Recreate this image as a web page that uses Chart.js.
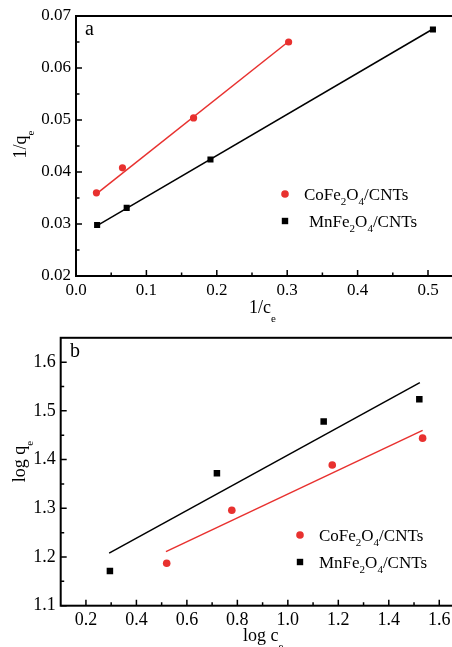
<!DOCTYPE html>
<html>
<head>
<meta charset="utf-8">
<script src="https://cdn.jsdelivr.net/npm/chart.js@4.4.0/dist/chart.umd.min.js"></script>
<style>
    html, body { margin: 0; padding: 0; background: #fff; overflow: hidden; width: 452px; height: 647px; }
    canvas { position: absolute; left: 0; }
    #chartA { top: 0; }
    #chartB { top: 322px; }
</style>
</head>
<body>
<canvas id="chartA" width="480" height="322"></canvas>
<canvas id="chartB" width="480" height="325"></canvas>
<script>
// ===== panel a : 1/qe vs 1/ce =====
const coXa = [0.029, 0.066, 0.167, 0.302];
const coYa = [0.0360, 0.0408, 0.0504, 0.0650];
const mnXa = [0.030, 0.072, 0.191, 0.507];
const mnYa = [0.0298, 0.0331, 0.0424, 0.0674];
const coFitXa = [0.029, 0.302];
const coFitYa = [0.0358, 0.0651];
const mnFitXa = [0.030, 0.507];
const mnFitYa = [0.0297, 0.0675];
const xTicksA = [0.0, 0.1, 0.2, 0.3, 0.4, 0.5];
const yTicksA = [0.02, 0.03, 0.04, 0.05, 0.06, 0.07];

// ===== panel b : log qe vs log ce =====
const coXb = [0.520, 0.778, 1.176, 1.534];
const coYb = [1.187, 1.296, 1.389, 1.444];
const mnXb = [0.295, 0.719, 1.142, 1.521];
const mnYb = [1.171, 1.372, 1.478, 1.524];
const coFitXb = [0.517, 1.534];
const coFitYb = [1.211, 1.460];
const mnFitXb = [0.292, 1.523];
const mnFitYb = [1.208, 1.558];
const xTicksB = [0.2, 0.4, 0.6, 0.8, 1.0, 1.2, 1.4, 1.6];
const yTicksB = [1.1, 1.2, 1.3, 1.4, 1.5, 1.6];

const RED = "#e8312f";
const SERIF = "'Liberation Serif', 'Times New Roman', serif";

const pts = (xs, ys) => xs.map((x, i) => ({ x: x, y: ys[i] }));

// text with subscripts: parts = [[text, isSub], ...]
function drawRich(ctx, parts, x, y, size, subSize, subDrop) {
    let cx = x;
    parts.forEach(([t, sub]) => {
        ctx.font = (sub ? subSize : size) + "px " + SERIF;
        ctx.fillText(t, cx, sub ? y + subDrop : y);
        cx += ctx.measureText(t).width;
    });
}

function framePlugin(cfg) {
    return {
        id: "frame",
        afterDraw(chart) {
            const ctx = chart.ctx;
            const a = chart.chartArea;
            const xs = chart.scales.x, ys = chart.scales.y;
            ctx.save();
            ctx.strokeStyle = "#000";
            ctx.fillStyle = "#000";
            ctx.lineWidth = 2;
            ctx.strokeRect(a.left, a.top, a.right - a.left, a.bottom - a.top);

            // inward ticks, major and minor
            ctx.lineWidth = 1.5;
            const stepX = cfg.xTicks[1] - cfg.xTicks[0];
            const stepY = cfg.yTicks[1] - cfg.yTicks[0];
            const minorX = cfg.xTicks.map(v => v + stepX / 2).concat([cfg.xTicks[0] - stepX / 2]);
            const minorY = cfg.yTicks.map(v => v + stepY / 2);
            ctx.beginPath();
            cfg.xTicks.forEach(v => {
                const p = xs.getPixelForValue(v);
                ctx.moveTo(p, a.bottom); ctx.lineTo(p, a.bottom - 6);
            });
            minorX.forEach(v => {
                if (v <= xs.min || v >= xs.max) return;
                const p = xs.getPixelForValue(v);
                ctx.moveTo(p, a.bottom); ctx.lineTo(p, a.bottom - 3.5);
            });
            cfg.yTicks.forEach(v => {
                const p = ys.getPixelForValue(v);
                ctx.moveTo(a.left, p); ctx.lineTo(a.left + 6, p);
            });
            minorY.forEach(v => {
                if (v <= ys.min || v >= ys.max) return;
                const p = ys.getPixelForValue(v);
                ctx.moveTo(a.left, p); ctx.lineTo(a.left + 3.5, p);
            });
            ctx.stroke();

            ctx.textBaseline = "alphabetic";
            ctx.textAlign = "left";

            // panel letter
            ctx.font = "20px " + SERIF;
            ctx.fillText(cfg.letter, cfg.letterPos[0], cfg.letterPos[1]);

            // x title
            drawRich(ctx, cfg.xTitle, cfg.xTitlePos[0], cfg.xTitlePos[1], 18, 11, 9);

            // y title, rotated
            ctx.save();
            ctx.translate(cfg.yTitlePos[0], cfg.yTitlePos[1]);
            ctx.rotate(-Math.PI / 2);
            ctx.font = "18px " + SERIF;
            const w = ctx.measureText(cfg.yTitle[0][0]).width;
            drawRich(ctx, cfg.yTitle, -w / 2, 0, 18, 11, 8);
            ctx.restore();

            // legend
            const lg = cfg.legend;
            ctx.fillStyle = RED;
            ctx.beginPath();
            ctx.arc(lg.markX, lg.coY, 3.8, 0, Math.PI * 2);
            ctx.fill();
            ctx.fillStyle = "#000";
            ctx.fillRect(lg.markX - 3.2, lg.mnY - 3.2, 6.4, 6.4);
            const co = [["CoFe", 0], ["2", 1], ["O", 0], ["4", 1], ["/CNTs", 0]];
            const mn = [["MnFe", 0], ["2", 1], ["O", 0], ["4", 1], ["/CNTs", 0]];
            drawRich(ctx, co, lg.coTextX, lg.coY + 6, 17, 11, 5);
            drawRich(ctx, mn, lg.mnTextX, lg.mnY + 6, 17, 11, 5);
            ctx.restore();
        }
    };
}

function makeChart(id, cfg) {
    const canvas = document.getElementById(id);
    return new Chart(canvas.getContext("2d"), {
        type: "scatter",
        data: {
            datasets: [
                { data: pts(cfg.coFitX, cfg.coFitY), showLine: true, borderColor: RED, borderWidth: 1.5, pointRadius: 0 },
                { data: pts(cfg.mnFitX, cfg.mnFitY), showLine: true, borderColor: "#000", borderWidth: 1.5, pointRadius: 0 },
                { data: pts(cfg.coX, cfg.coY), pointStyle: "circle", pointRadius: cfg.circleR, backgroundColor: RED, borderColor: RED, borderWidth: 0 },
                { data: pts(cfg.mnX, cfg.mnY), pointStyle: "rect", pointRadius: cfg.rectR, backgroundColor: "#000", borderColor: "#000", borderWidth: 0 }
            ]
        },
        options: {
            responsive: false,
            animation: false,
            layout: { padding: cfg.padding },
            plugins: { legend: { display: false }, tooltip: { enabled: false } },
            scales: {
                x: {
                    type: "linear", min: cfg.xMin, max: cfg.xMax,
                    grid: { display: false, drawTicks: false }, border: { display: false },
                    afterBuildTicks: s => { s.ticks = cfg.xTicks.map(v => ({ value: v })); },
                    afterFit: s => { s.height = cfg.xHeight; },
                    ticks: { color: "#000", padding: 4, maxRotation: 0, autoSkip: false,
                        font: { family: SERIF, size: cfg.tickSize },
                        callback: v => v.toFixed(1) }
                },
                y: {
                    type: "linear", min: cfg.yMin, max: cfg.yMax,
                    grid: { display: false, drawTicks: false }, border: { display: false },
                    afterBuildTicks: s => { s.ticks = cfg.yTicks.map(v => ({ value: v })); },
                    afterFit: s => { s.width = cfg.yWidth; },
                    ticks: { color: "#000", padding: 5, autoSkip: false,
                        font: { family: SERIF, size: cfg.tickSize },
                        callback: v => v.toFixed(cfg.yDigits) }
                }
            }
        },
        plugins: [framePlugin(cfg)]
    });
}

makeChart("chartA", {
    coX: coXa, coY: coYa, mnX: mnXa, mnY: mnYa,
    coFitX: coFitXa, coFitY: coFitYa, mnFitX: mnFitXa, mnFitY: mnFitYa,
    xTicks: xTicksA, yTicks: yTicksA, xMin: 0, xMax: 0.55, yMin: 0.02, yMax: 0.07, yDigits: 2,
    padding: { top: 16, right: 16.8, left: 0, bottom: 0 }, xHeight: 46, yWidth: 76,
    tickSize: 17, circleR: 3.6, rectR: 4.3,
    letter: "a", letterPos: [85, 35],
    xTitle: [["1/c", 0], ["e", 1]], xTitlePos: [249, 313],
    yTitle: [["1/q", 0], ["e", 1]], yTitlePos: [26, 147],
    legend: { markX: 285, coY: 194, mnY: 221, coTextX: 304, mnTextX: 309 }
});

makeChart("chartB", {
    coX: coXb, coY: coYb, mnX: mnXb, mnY: mnYb,
    coFitX: coFitXb, coFitY: coFitYb, mnFitX: mnFitXb, mnFitY: mnFitYb,
    xTicks: xTicksB, yTicks: yTicksB, xMin: 0.1, xMax: 1.7, yMin: 1.1, yMax: 1.65, yDigits: 1,
    padding: { top: 14, right: 15.5, left: 0, bottom: 0 }, xHeight: 41.3, yWidth: 60.7,
    tickSize: 18, circleR: 3.8, rectR: 4.6,
    letter: "b", letterPos: [70, 35],
    xTitle: [["log c", 0], ["e", 1]], xTitlePos: [243, 319],
    yTitle: [["log q", 0], ["e", 1]], yTitlePos: [25, 142],
    legend: { markX: 300, coY: 213, mnY: 240, coTextX: 319, mnTextX: 319 }
});
</script>
</body>
</html>
